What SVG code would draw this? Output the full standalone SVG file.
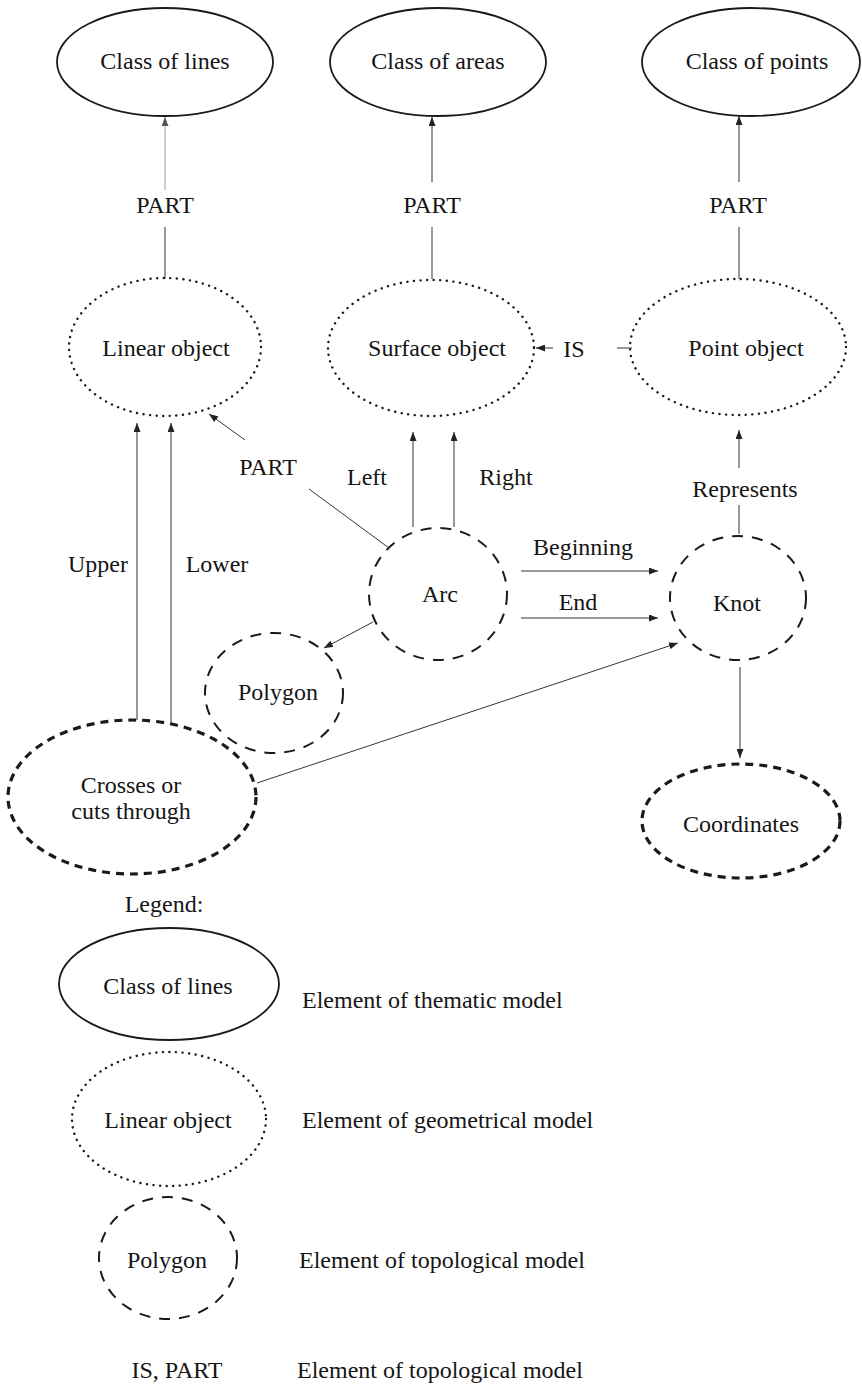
<svg xmlns="http://www.w3.org/2000/svg" width="862" height="1387" viewBox="0 0 862 1387">
<defs>
<marker id="ah" markerUnits="userSpaceOnUse" markerWidth="9" markerHeight="7" refX="9" refY="3.5" orient="auto">
<path d="M0,0 L9,3.5 L0,7 z" fill="#222"/>
</marker>
<marker id="ahl" markerUnits="userSpaceOnUse" markerWidth="9" markerHeight="7" refX="9" refY="3.5" orient="auto">
<path d="M0,0 L9,3.5 L0,7 z" fill="#555"/>
</marker>
<style>
text{font-family:"Liberation Serif","Times New Roman",serif;font-size:24px;fill:#151515;text-anchor:middle}
.lg{text-anchor:start}
.solid{fill:none;stroke:#1a1a1a;stroke-width:1.8}
.dot{fill:none;stroke:#1a1a1a;stroke-width:2.4;stroke-dasharray:0.1 6.5;stroke-linecap:round}
.dash{fill:none;stroke:#1a1a1a;stroke-width:2;stroke-dasharray:11 9}
.bold{fill:none;stroke:#1a1a1a;stroke-width:3.2;stroke-dasharray:8 6}
.c{fill:none;stroke:#333;stroke-width:1}
.a{fill:none;stroke:#333;stroke-width:1;marker-end:url(#ah)}
.al{fill:none;stroke:#999;stroke-width:1;marker-end:url(#ahl)}
.cl{fill:none;stroke:#999;stroke-width:1}
</style>
</defs>
<rect width="862" height="1387" fill="#fff"/>

<g id="connectors">
<line class="al" x1="165" y1="190" x2="165" y2="117"/>
<line class="c" x1="165" y1="227" x2="165" y2="279"/>
<line class="a" x1="432" y1="182" x2="432" y2="117"/>
<line class="c" x1="432" y1="227" x2="432" y2="279"/>
<line class="a" x1="739" y1="182" x2="739" y2="116"/>
<line class="c" x1="739" y1="227" x2="739" y2="279"/>
<line class="a" x1="137" y1="720" x2="137" y2="423"/>
<line class="a" x1="171" y1="723" x2="171" y2="423"/>
<line class="a" x1="413" y1="527" x2="413" y2="432"/>
<line class="a" x1="454" y1="527" x2="454" y2="432"/>
<line class="c" x1="389" y1="548" x2="309" y2="489"/>
<line class="a" x1="245" y1="440" x2="209" y2="414"/>
<line class="c" x1="632" y1="348" x2="617" y2="348"/>
<line class="a" x1="553" y1="348" x2="536" y2="348"/>
<line class="c" x1="739" y1="534" x2="739" y2="505"/>
<line class="a" x1="739" y1="468" x2="739" y2="430"/>
<line class="a" x1="521" y1="571" x2="658" y2="571"/>
<line class="a" x1="521" y1="618" x2="658" y2="618"/>
<line class="a" x1="373" y1="622" x2="324" y2="648"/>
<line class="a" x1="257" y1="783" x2="678" y2="643"/>
<line class="a" x1="740" y1="667" x2="740" y2="758"/>
</g>

<g id="labels">
<text x="165" y="213">PART</text>
<text x="432" y="213">PART</text>
<text x="738" y="213">PART</text>
<text x="574" y="357">IS</text>
<text x="268" y="475">PART</text>
<text x="367" y="485">Left</text>
<text x="506" y="485">Right</text>
<text x="745" y="497">Represents</text>
<text x="98" y="572">Upper</text>
<text x="217" y="572">Lower</text>
<text x="583" y="555">Beginning</text>
<text x="578" y="610">End</text>
</g>

<g id="class-of-lines">
<ellipse class="solid" cx="165" cy="62" rx="108" ry="54"/>
<text x="165" y="69">Class of lines</text>
</g>
<g id="class-of-areas">
<ellipse class="solid" cx="438" cy="62" rx="108" ry="54"/>
<text x="438" y="69">Class of areas</text>
</g>
<g id="class-of-points">
<ellipse class="solid" cx="751" cy="62" rx="109" ry="54"/>
<text x="757" y="69">Class of points</text>
</g>

<g id="linear-object">
<ellipse class="dot" cx="165" cy="347" rx="96" ry="69"/>
<text x="166" y="356">Linear object</text>
</g>
<g id="surface-object">
<ellipse class="dot" cx="431" cy="348" rx="103" ry="68"/>
<text x="437" y="356">Surface object</text>
</g>
<g id="point-object">
<ellipse class="dot" cx="738" cy="347" rx="108" ry="68"/>
<text x="746" y="356">Point object</text>
</g>

<g id="arc">
<ellipse class="dash" cx="438" cy="594" rx="69" ry="66"/>
<text x="440" y="602">Arc</text>
</g>
<g id="knot">
<ellipse class="dash" cx="738" cy="598" rx="68" ry="62"/>
<text x="737" y="611">Knot</text>
</g>
<g id="polygon">
<ellipse class="dash" cx="274" cy="693" rx="69" ry="60"/>
<text x="278" y="700">Polygon</text>
</g>
<g id="crosses">
<ellipse class="bold" cx="132" cy="797" rx="124" ry="77"/>
<text x="131" y="793">Crosses or</text>
<text x="131" y="819">cuts through</text>
</g>
<g id="coordinates">
<ellipse class="bold" cx="741" cy="821" rx="99" ry="57"/>
<text x="741" y="832">Coordinates</text>
</g>

<g id="legend">
<text x="164" y="912">Legend:</text>
<ellipse class="solid" cx="169" cy="984" rx="110" ry="56"/>
<text x="168" y="994">Class of lines</text>
<text class="lg" x="302" y="1008">Element of thematic model</text>
<ellipse class="dot" cx="169" cy="1119" rx="97" ry="67"/>
<text x="168" y="1128">Linear object</text>
<text class="lg" x="302" y="1128">Element of geometrical model</text>
<ellipse class="dash" cx="168" cy="1258" rx="69" ry="61"/>
<text x="167" y="1268">Polygon</text>
<text class="lg" x="299" y="1268">Element of topological model</text>
<text x="177" y="1378">IS, PART</text>
<text class="lg" x="297" y="1378">Element of topological model</text>
</g>
</svg>
